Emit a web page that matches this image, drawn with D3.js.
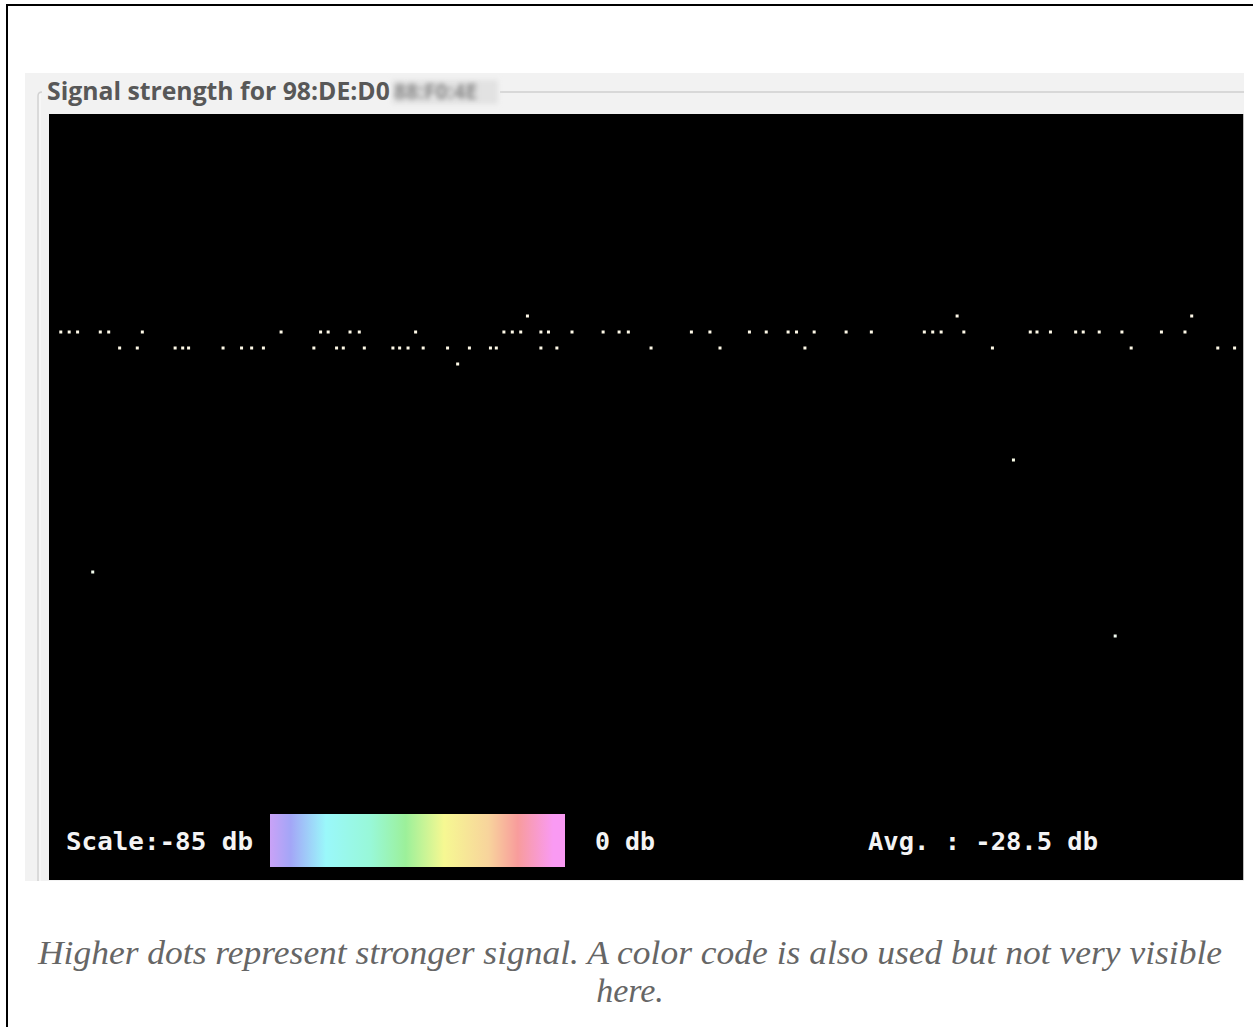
<!DOCTYPE html>
<html>
<head>
<meta charset="utf-8">
<script src="https://cdn.jsdelivr.net/npm/d3@7"></script>
<style>
  body { margin: 0; background: #fff; }
  svg { display: block; }
</style>
</head>
<body>
<div id="canvas"></div>
<script>
"use strict"

/* DATA: time of each sample (seconds) and signal strength (db) */
let sampleTimes = [1.4, 2.4, 3.4, 5.2, 6.1, 7.1, 8.4, 10.5, 11.1, 15.0, 15.9, 16.6, 20.7, 22.9, 24.1, 25.5,
  27.6, 31.5, 32.3, 33.2, 34.2, 35.0, 35.8, 36.9, 37.5, 40.9, 41.7, 42.7, 43.6, 44.5, 47.4, 48.6,
  50.0, 52.5, 53.2, 54.1, 55.1, 56.1, 56.9, 58.5, 58.5, 59.4, 60.4, 62.2, 65.9, 67.8, 68.9, 71.6,
  76.4, 78.6, 79.8, 83.3, 85.3, 87.9, 88.9, 89.9, 91.0, 94.8, 97.8, 104.1, 105.1, 106.1, 108.0, 108.8,
  112.2, 114.7, 116.7, 117.5, 119.1, 122.1, 123.0, 124.9, 126.8, 127.6, 128.7, 132.3, 135.1, 135.9, 139.0, 141.0];

let sampleDb = [-24, -24, -24, -54, -24, -24, -26, -26, -24, -26, -26, -26, -26, -26, -26, -26,
  -24, -26, -24, -24, -26, -26, -24, -24, -26, -26, -26, -26, -24, -26, -26, -28,
  -26, -26, -26, -24, -24, -24, -22, -24, -26, -24, -26, -24, -24, -24, -24, -26,
  -24, -24, -26, -24, -24, -24, -24, -26, -24, -24, -24, -24, -24, -24, -22, -24,
  -26, -40, -24, -24, -24, -24, -24, -24, -62, -24, -26, -24, -24, -22, -26, -26];

let scaleMin = -85;
let scaleMax = 0;
let avgLabel = "-28.5";

// colour stops of the legend bar (offset 0..1)
let stopOffsets = [0, 0.07, 0.19, 0.34, 0.46, 0.59, 0.74, 0.84, 0.96, 1];
let stopColors = ["#c9a2f7", "#a3a6f7", "#9af8fa", "#98f8d8", "#9cf09a", "#f6f892", "#f8d49c", "#f89c9c", "#f99af3", "#f99af3"];

let titleText = "Signal strength for 98:DE:D0";
let captionLines = ["Higher dots represent stronger signal. A color code is also used but not very visible", "here."];

/* Configuration: drawing */
let svgWidth = 1253;
let svgHeight = 1027;

let panelLeft = 49, panelRight = 1243, panelTop = 114, panelBottom = 880;

let svg = d3.select("#canvas")
  .append("svg")
  .attr("width", svgWidth)
  .attr("height", svgHeight);

let defs = svg.append("defs");

// outer frame of the figure
svg.append("line").attr("x1", 7).attr("y1", 5).attr("x2", svgWidth).attr("y2", 5)
  .attr("stroke", "black").attr("stroke-width", 2);
svg.append("line").attr("x1", 7).attr("y1", 4).attr("x2", 7).attr("y2", svgHeight)
  .attr("stroke", "black").attr("stroke-width", 2);

// window background (grey)
svg.append("rect")
  .attr("x", 25).attr("y", 73)
  .attr("width", 1219).attr("height", 808)
  .attr("fill", "#f2f2f2");

// group box lines
svg.append("path")
  .attr("d", "M 38 881 L 38 96 Q 38 92 42 92")
  .attr("fill", "none").attr("stroke", "#d2d2d2").attr("stroke-width", 1.5);
svg.append("line")
  .attr("x1", 500).attr("y1", 92).attr("x2", 1244).attr("y2", 92)
  .attr("stroke", "#cfcfcf").attr("stroke-width", 1.5);
svg.append("line")
  .attr("x1", 40).attr("y1", 94).attr("x2", 40).attr("y2", 881)
  .attr("stroke", "#fbfbfb").attr("stroke-width", 1);

// title
let title = svg.append("text")
  .attr("x", 47).attr("y", 100)
  .style("font-family", "'Open Sans', sans-serif")
  .style("font-weight", "700")
  .style("font-size", "22px")
  .attr("fill", "#585858")
  .text(titleText);
let tl = title.node().getComputedTextLength();
title.style("font-size", (22 * 343 / tl) + "px");

// blurred address part
defs.append("filter").attr("id", "blur")
  .attr("x", "-20%").attr("y", "-50%").attr("width", "140%").attr("height", "200%")
  .append("feGaussianBlur").attr("stdDeviation", 2.5);
svg.append("rect")
  .attr("x", 392).attr("y", 80)
  .attr("width", 106).attr("height", 24)
  .attr("filter", "url(#blur)")
  .attr("fill", "#e2e2e2");
svg.append("text")
  .attr("x", 394).attr("y", 99)
  .attr("filter", "url(#blur)")
  .style("font-family", "'Open Sans', sans-serif")
  .style("font-weight", "700")
  .style("font-size", "21px")
  .attr("fill", "#8a8a8a")
  .text("88:F0:4E");

// black plotting panel
svg.append("rect")
  .attr("x", panelLeft).attr("y", panelTop)
  .attr("width", panelRight - panelLeft).attr("height", panelBottom - panelTop)
  .attr("fill", "black");
svg.append("line")
  .attr("x1", panelRight + 0.5).attr("y1", panelTop).attr("x2", panelRight + 0.5).attr("y2", panelBottom)
  .attr("stroke", "#bdbdbd");

// SCALES
let xScale = d3.scaleLinear()
  .domain([0, 142])
  .range([panelLeft, panelRight]);

let yScale = d3.scaleLinear()
  .domain([scaleMax, scaleMin])
  .range([140, 820]);

let colorScale = d3.scaleLinear()
  .domain(stopOffsets.map(function (o) { return scaleMin + o * (scaleMax - scaleMin); }))
  .range(stopColors);

let samples = sampleTimes.map(function (t, i) {
  return { t: t, db: sampleDb[i] };
});

// dots (mostly white, slight tint from the colour code)
svg.selectAll("rect.dot")
  .data(samples)
  .join("rect")
  .attr("class", "dot")
  .attr("x", function (d) { return xScale(d.t) - 1.5; })
  .attr("y", function (d) { return yScale(d.db) - 1.5; })
  .attr("width", 3)
  .attr("height", 3)
  .attr("fill", function (d) { return d3.interpolateRgb("#fffdf2", colorScale(d.db))(0.12); });

// LEGEND
let grad = defs.append("linearGradient").attr("id", "scaleGrad")
  .attr("x1", "0%").attr("x2", "100%").attr("y1", "0%").attr("y2", "0%");
grad.selectAll("stop")
  .data(stopOffsets)
  .join("stop")
  .attr("offset", function (d) { return d; })
  .attr("stop-color", function (d, i) { return stopColors[i]; });

svg.append("rect")
  .attr("x", 270).attr("y", 814)
  .attr("width", 295).attr("height", 53)
  .attr("fill", "url(#scaleGrad)");

function monoLabel(txt, x, width) {
  let t = svg.append("text")
    .attr("x", x).attr("y", 850)
    .style("font-family", "'DejaVu Sans Mono', monospace")
    .style("font-weight", "bold")
    .style("font-size", "24px")
    .attr("fill", "#f4f4f4")
    .text(txt);
  t.attr("textLength", width).attr("lengthAdjust", "spacingAndGlyphs");
  return t;
}

monoLabel("Scale:" + scaleMin + " db", 66, 187);
monoLabel(scaleMax + " db", 595, 60);
monoLabel("Avg. : " + avgLabel + " db", 868, 230);

// CAPTION
captionLines.forEach(function (line, i) {
  let c = svg.append("text")
    .attr("x", 630).attr("y", 964 + i * 38)
    .attr("text-anchor", "middle")
    .style("font-family", "'Liberation Serif', serif")
    .style("font-style", "italic")
    .style("font-size", "34px")
    .attr("fill", "#666")
    .text(line);
  if (i == 0) {
    // first line spans the same width as in the picture
    c.attr("textLength", 1184).attr("lengthAdjust", "spacingAndGlyphs");
  }
});
</script>
</body>
</html>
